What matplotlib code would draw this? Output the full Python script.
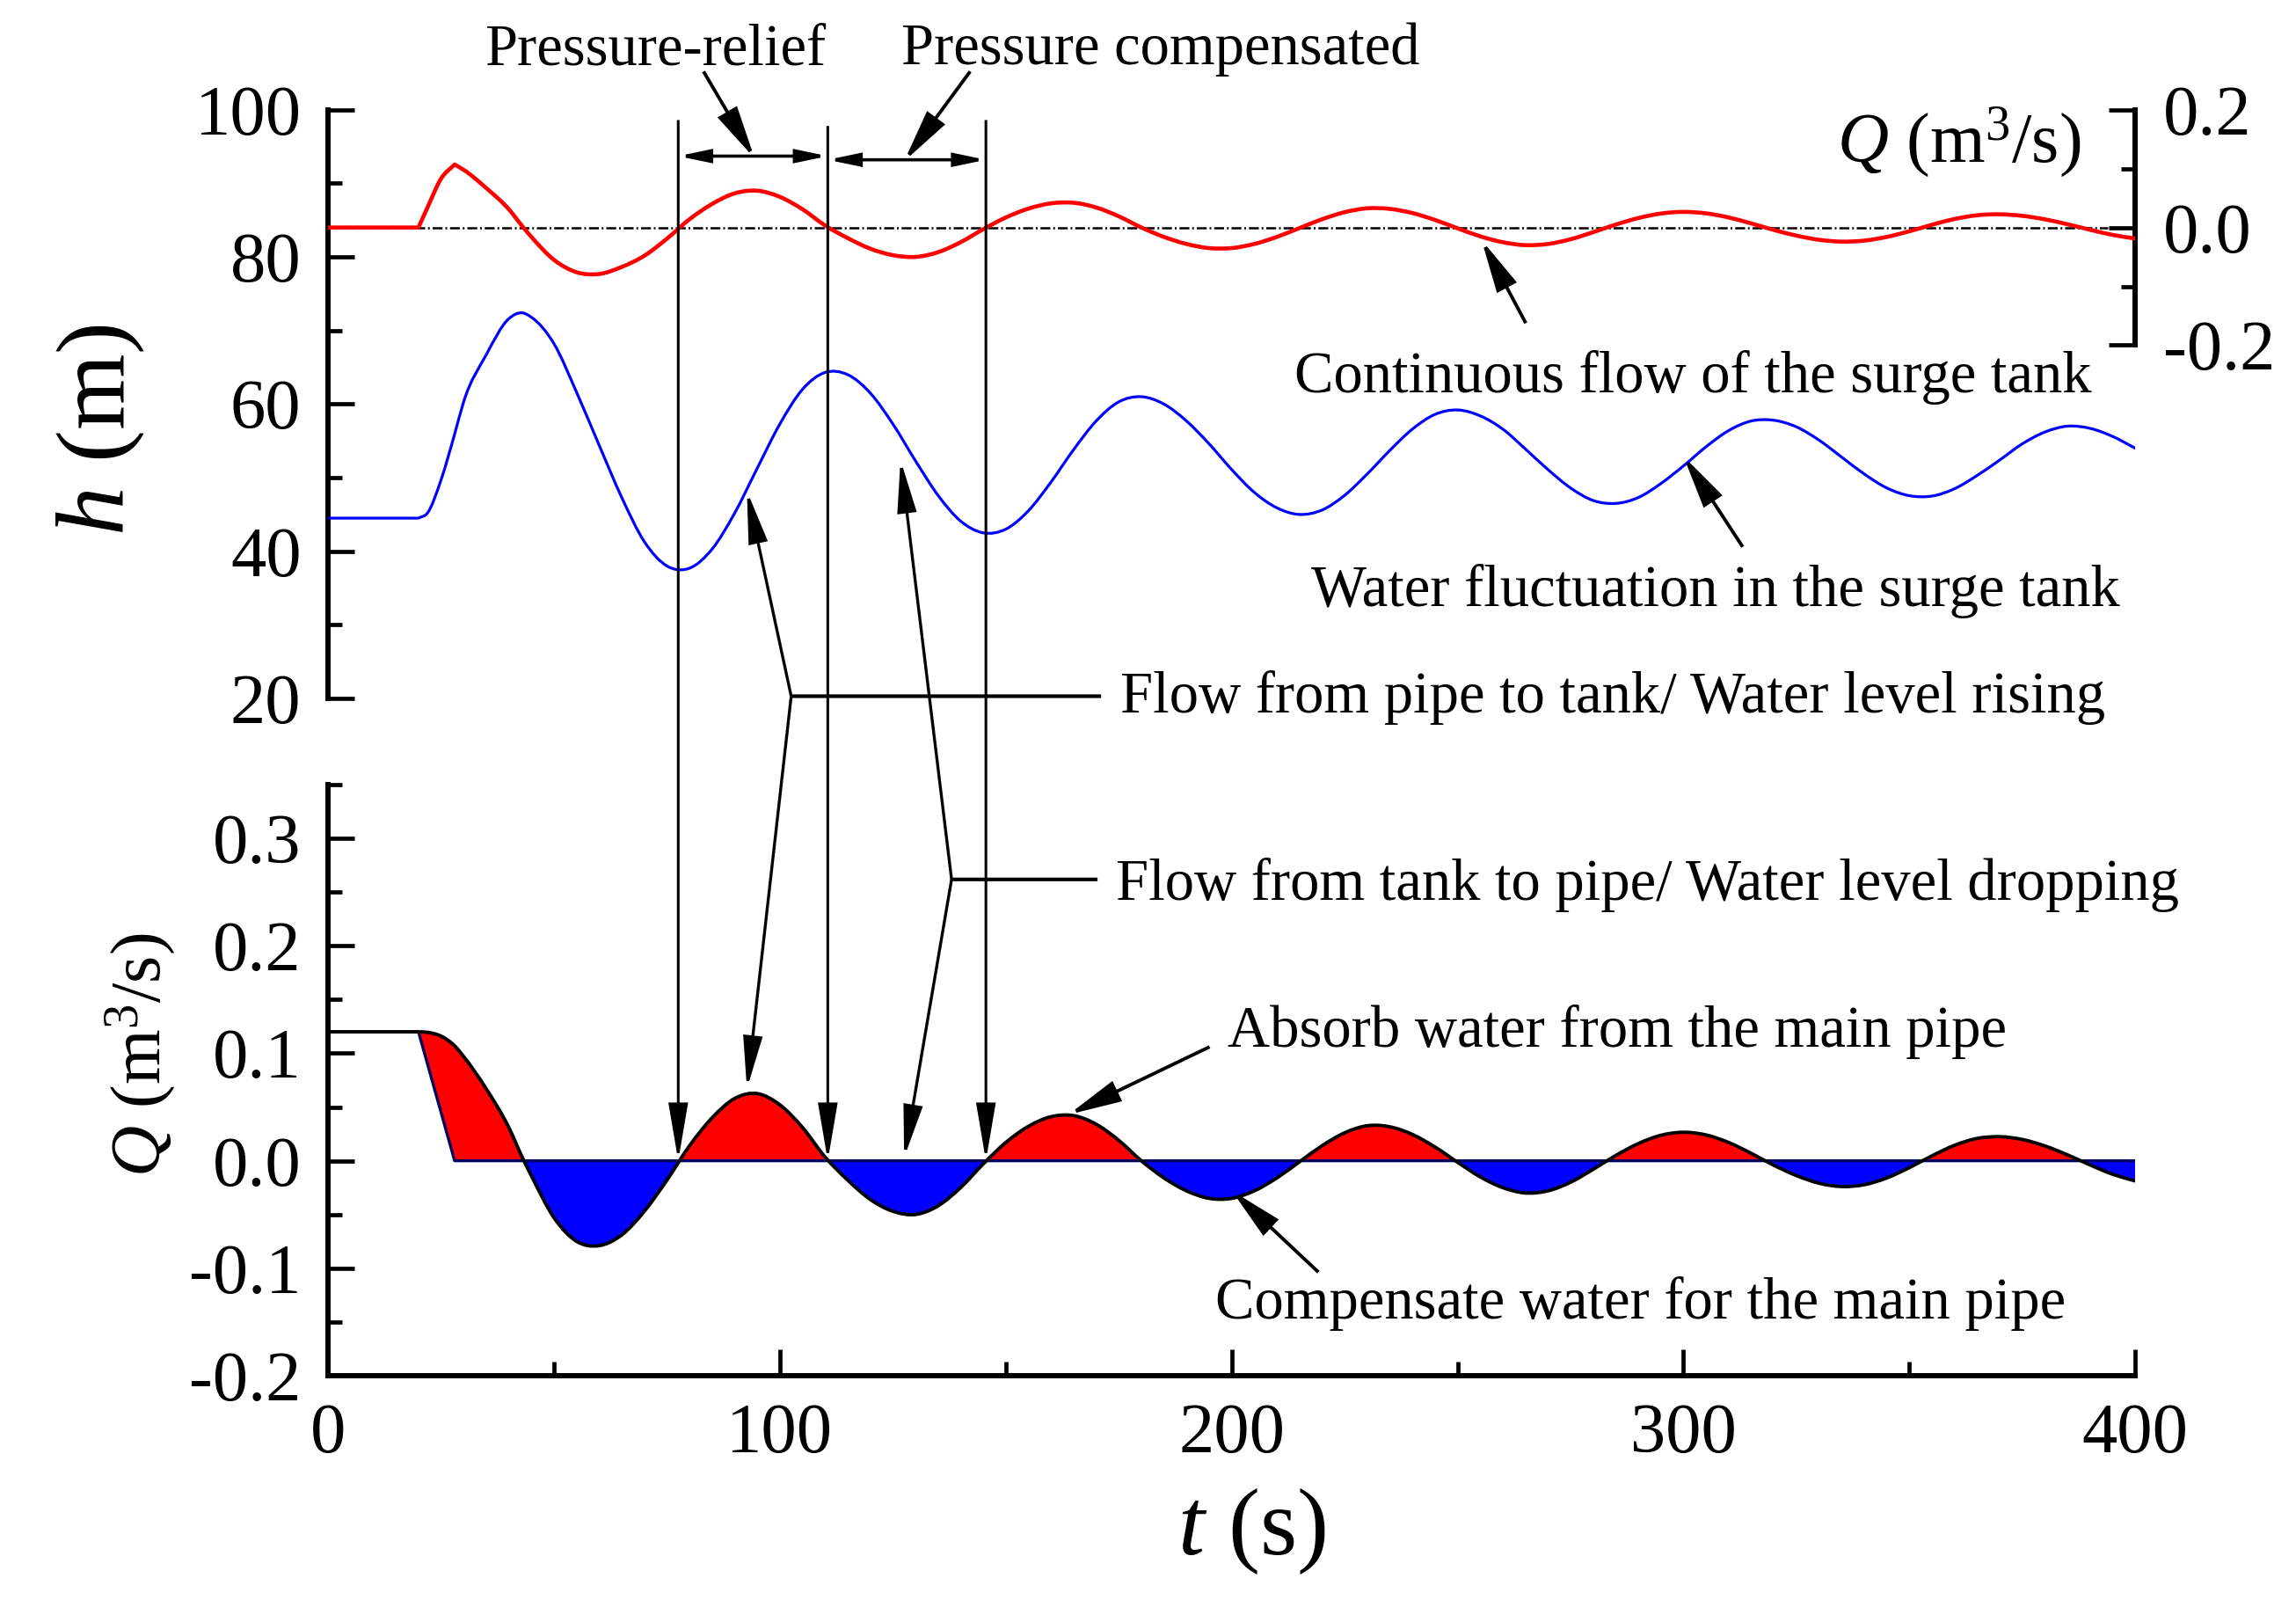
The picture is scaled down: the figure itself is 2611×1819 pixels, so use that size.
import numpy as np
import matplotlib
matplotlib.use("Agg")
import matplotlib.pyplot as plt
from matplotlib.patches import ConnectionPatch, PathPatch
from matplotlib.path import Path
from matplotlib.ticker import MultipleLocator, FixedLocator, FormatStrFormatter

plt.rcParams.update({
    "font.family": ["Liberation Serif", "DejaVu Serif"],
    "mathtext.fontset": "custom",
    "mathtext.rm": "Liberation Serif",
    "mathtext.it": "Liberation Serif:italic",
    "mathtext.bf": "Liberation Serif:bold",
    "axes.unicode_minus": False,
})

# ---------------- data ----------------
t = [0, 5, 10, 15, 20, 22, 25, 28, 30, 35, 40, 43, 45, 50, 55, 60, 65, 70, 75,
     80, 85, 90, 95, 100, 105, 110, 115, 120, 125, 130, 135, 140, 145, 150,
     155, 160, 165, 170, 175, 180, 185, 190, 195, 200, 205, 210, 215, 220,
     225, 230, 235, 240, 245, 250, 255, 260, 265, 270, 275, 280, 285, 290,
     295, 300, 305, 310, 315, 320, 325, 330, 335, 340, 345, 350, 355, 360,
     365, 370, 375, 380, 385, 390, 395, 400]

# water level in the surge tank (m)
h_level = [44.5, 44.5, 44.5, 44.5, 44.5, 45.2, 49.7, 55.9, 60.3, 66.7, 71.6, 72.4, 71.8,
           68.2, 61.6, 54.4, 47.3, 41.3, 38.0, 37.7, 40.3, 45.2, 51.3, 57.3, 62.0,
           64.3, 64.0, 61.5, 57.3, 52.3, 47.6, 44.1, 42.5, 43.0, 45.5, 49.4, 53.8,
           57.7, 60.3, 61.0, 60.0, 57.7, 54.6, 51.1, 48.0, 45.9, 45.0, 45.6, 47.6,
           50.5, 53.7, 56.6, 58.6, 59.2, 58.4, 56.6, 53.9, 51.1, 48.6, 46.9, 46.5,
           47.3, 49.2, 51.6, 54.2, 56.4, 57.7, 57.8, 56.9, 55.1, 52.8, 50.5, 48.6,
           47.55, 47.5, 48.5, 50.3, 52.4, 54.6, 56.2, 57.0, 56.7, 55.6, 54.0]

# continuous flow of the surge tank (m3/s), top panel
q_top = [0.0, 0.0, 0.0, 0.0, 0.0, 0.034, 0.083, 0.107, 0.098, 0.067, 0.031, 0.002, -0.016,
         -0.055, -0.076, -0.079, -0.067, -0.048, -0.019, 0.014, 0.040, 0.058, 0.0625,
         0.052, 0.031, 0.0035, -0.018, -0.036, -0.047, -0.050, -0.042, -0.025, -0.003,
         0.017, 0.032, 0.041, 0.042, 0.034, 0.019, 0.0, -0.016, -0.028, -0.035, -0.035,
         -0.028, -0.016, -0.001, 0.014, 0.026, 0.0326, 0.0316, 0.0245, 0.0128, -0.0014,
         -0.015, -0.025, -0.030, -0.028, -0.020, -0.008, 0.0049, 0.016, 0.0237, 0.0265,
         0.024, 0.017, 0.0069, -0.0042, -0.0138, -0.0209, -0.024, -0.0223, -0.016,
         -0.0064, 0.0046, 0.0144, 0.0208, 0.0224, 0.0198, 0.0138, 0.0055, -0.0039,
         -0.0126, -0.0188]

# flow between pipe and tank (m3/s), bottom panel
q_flow = [0.12, 0.12, 0.12, 0.12, 0.12, 0.1195, 0.116, 0.107, 0.097, 0.067, 0.031, 0.003,
          -0.014, -0.053, -0.075, -0.079, -0.069, -0.047, -0.018, 0.014, 0.040, 0.058,
          0.0625, 0.052, 0.031, 0.0035, -0.018, -0.036, -0.047, -0.050, -0.042, -0.025,
          -0.003, 0.017, 0.032, 0.041, 0.042, 0.034, 0.019, 0.0, -0.016, -0.028, -0.035,
          -0.035, -0.028, -0.016, -0.001, 0.014, 0.026, 0.0326, 0.0316, 0.0245, 0.0128,
          -0.0014, -0.015, -0.025, -0.030, -0.028, -0.020, -0.008, 0.0049, 0.016, 0.0237,
          0.0265, 0.024, 0.017, 0.0069, -0.0042, -0.0138, -0.0209, -0.024, -0.0223,
          -0.016, -0.0064, 0.0046, 0.0144, 0.0208, 0.0224, 0.0198, 0.0138, 0.0055,
          -0.0039, -0.0126, -0.0188]

# reference (steady) flow line in the bottom panel
base_t = [0, 20, 28, 400]
base_q = [0.12, 0.12, 0.0, 0.0]

# instants of the vertical guide lines (s)
guide_t = [77.5, 110.6, 145.6]
guide_top = [98.6, 97.8, 98.6]

x_ticks = [0, 100, 200, 300, 400]
h_ticks = [20, 40, 60, 80, 100]
q_ticks = [-0.2, -0.1, 0.0, 0.1, 0.2, 0.3]
qr_ticks = [-0.2, 0.0, 0.2]


# smooth (spline-like) connection of the data points, drawn as Bezier path
def smooth_path(x, y, corners=()):
    x = np.asarray(x, float)
    y = np.asarray(y, float)
    n = len(x)
    m = np.zeros(n)
    for i in range(n):
        if i == 0:
            m[i] = (y[1] - y[0]) / (x[1] - x[0])
        elif i == n - 1:
            m[i] = (y[-1] - y[-2]) / (x[-1] - x[-2])
        else:
            h0, h1 = x[i] - x[i - 1], x[i + 1] - x[i]
            d0, d1 = (y[i] - y[i - 1]) / h0, (y[i + 1] - y[i]) / h1
            m[i] = (d0 * h1 + d1 * h0) / (h0 + h1)
    mL, mR = m.copy(), m.copy()
    for i in corners:
        mL[i] = (y[i] - y[i - 1]) / (x[i] - x[i - 1])
        mR[i] = (y[i + 1] - y[i]) / (x[i + 1] - x[i])
    verts = [(x[0], y[0])]
    codes = [Path.MOVETO]
    for i in range(n - 1):
        dx = x[i + 1] - x[i]
        verts += [(x[i] + dx / 3, y[i] + mR[i] * dx / 3),
                  (x[i + 1] - dx / 3, y[i + 1] - mL[i + 1] * dx / 3),
                  (x[i + 1], y[i + 1])]
        codes += [Path.CURVE4] * 3
    return verts, codes


def draw_curve(ax, x, y, corners=(), **kw):
    v, c = smooth_path(x, y, corners)
    ax.add_patch(PathPatch(Path(v, c), fill=False, **kw))


# ---------------- figure ----------------
fig = plt.figure(figsize=(26.11, 18.19), dpi=100)
ax_h = fig.add_axes([0.1429, 0.5635, 0.7871, 0.3679])
ax_q = fig.add_axes([0.1429, 0.1402, 0.7871, 0.3694])
ax_r = ax_h.twinx()

SPW = 4.3
TS = 58
for ax in (ax_h, ax_q, ax_r):
    ax.set_facecolor("none")
    ax.set_xlim(0, 400)
    for s in ax.spines.values():
        s.set_linewidth(SPW)

# top panel: water level
ax_h.set_ylim(20, 100)
for s in ("top", "right", "bottom"):
    ax_h.spines[s].set_visible(False)
ax_h.tick_params(axis="x", which="both", bottom=False, labelbottom=False)
ax_h.yaxis.set_major_locator(FixedLocator(h_ticks))
ax_h.yaxis.set_minor_locator(MultipleLocator(10))
ax_h.tick_params(axis="y", which="major", direction="in", length=21.6, width=3.4,
                 labelsize=TS, pad=22)
ax_h.tick_params(axis="y", which="minor", direction="in", length=11.5, width=3.4)
draw_curve(ax_h, t, h_level, corners=(4,), edgecolor="#0000FF", lw=2.3, zorder=3,
           capstyle="round", joinstyle="round")

# top panel: right Q axis
ax_r.set_ylim(-0.8, 0.2)
for s in ("top", "left", "bottom"):
    ax_r.spines[s].set_visible(False)
ax_r.spines["right"].set_bounds(-0.2, 0.2)
ax_r.yaxis.set_major_locator(FixedLocator(qr_ticks))
ax_r.yaxis.set_minor_locator(FixedLocator([-0.1, 0.1]))
ax_r.yaxis.set_major_formatter(FormatStrFormatter("%.1f"))
ax_r.tick_params(axis="y", which="major", direction="in", length=21.6, width=3.4,
                 labelsize=TS, pad=23)
ax_r.tick_params(axis="y", which="minor", direction="in", length=11.5, width=3.4)
ax_r.axhline(0, xmax=0.985, color="black", lw=1.8, ls=(0, (4.5, 1.3, 0.8, 1.3)), zorder=2)
draw_curve(ax_r, t, q_top, corners=(4, 7), edgecolor="#FF0000", lw=3.3, zorder=3,
           capstyle="round", joinstyle="round")
ax_h.text(387.9, 92.9, r"$Q$ (m$^3$/s)", fontsize=58, ha="right", va="baseline")

# bottom panel
ax_q.set_ylim(-0.2, 0.35)
for s in ("top", "right"):
    ax_q.spines[s].set_visible(False)
ax_q.xaxis.set_major_locator(FixedLocator(x_ticks))
ax_q.xaxis.set_minor_locator(MultipleLocator(50))
ax_q.yaxis.set_major_locator(FixedLocator(q_ticks))
ax_q.yaxis.set_minor_locator(MultipleLocator(0.05))
ax_q.yaxis.set_major_formatter(FormatStrFormatter("%.1f"))
ax_q.tick_params(axis="both", which="major", direction="in", length=21.6, width=3.4,
                 labelsize=TS)
ax_q.tick_params(axis="both", which="minor", direction="in", length=11.5, width=3.4)
ax_q.tick_params(axis="y", pad=22)
ax_q.tick_params(axis="x", pad=22)

# filled lobes between the flow curve and the reference line
v, c = smooth_path(t, q_flow, corners=(4,))
v = v + [(base_t[k], base_q[k]) for k in range(len(base_t) - 1, -1, -1)] + [(0, 0)]
c = c + [Path.LINETO] * len(base_t) + [Path.CLOSEPOLY]
region = Path(v, c)
above = Path(list(zip(base_t, base_q)) + [(400, 1.0), (0, 1.0), (0, 0)],
             [Path.MOVETO] + [Path.LINETO] * (len(base_t) + 1) + [Path.CLOSEPOLY])
below = Path(list(zip(base_t, base_q)) + [(400, -1.0), (0, -1.0), (0, 0)],
             [Path.MOVETO] + [Path.LINETO] * (len(base_t) + 1) + [Path.CLOSEPOLY])
red_fill = PathPatch(region, facecolor="#FF0000", lw=0, zorder=1)
blue_fill = PathPatch(region, facecolor="#0000FF", lw=0, zorder=1)
ax_q.add_patch(red_fill)
ax_q.add_patch(blue_fill)
red_fill.set_clip_path(above, ax_q.transData)
blue_fill.set_clip_path(below, ax_q.transData)

ax_q.plot(base_t, base_q, color="#000060", lw=2.4, zorder=2)
draw_curve(ax_q, t, q_flow, corners=(4,), edgecolor="black", lw=2.8, zorder=3,
           capstyle="round", joinstyle="round")

# axis titles
fig.text(0.0437, 0.7312, r"$h$ (m)", fontsize=80, rotation=90, ha="center", va="center")
fig.text(0.0613, 0.3408, r"$Q$ (m$^3$/s)", fontsize=58, rotation=90, ha="center", va="center")
fig.text(0.545, 0.0428, r"$t$ (s)", fontsize=78, ha="center", va="center")


# ---------------- annotations ----------------
def link(pA, axA, pB, axB, lw=2.4, style="-|>", ms=30, hl=0.92, hw=0.22):
    if style == "-":
        arrowstyle = "-"
    else:
        arrowstyle = f"{style},head_length={hl},head_width={hw}"
    con = ConnectionPatch(xyA=pA, coordsA=axA.transData, xyB=pB, coordsB=axB.transData,
                          arrowstyle=arrowstyle, mutation_scale=ms, lw=lw,
                          color="black", shrinkA=0, shrinkB=0, zorder=5,
                          joinstyle="miter", capstyle="butt")
    fig.add_artist(con)


# vertical guide lines down to Q = 0
for gx, gtop in zip(guide_t, guide_top):
    link((gx, gtop), ax_h, (gx, 0.0), ax_q, lw=2.2, ms=40, hl=1.0, hw=0.17)

# pressure intervals (double arrows)
link((guide_t[0], 93.7), ax_h, (guide_t[1], 93.7), ax_h, lw=2.6, style="<|-|>", ms=20, hl=1.05, hw=0.22)
link((guide_t[1], 93.2), ax_h, (guide_t[2], 93.2), ax_h, lw=2.6, style="<|-|>", ms=20, hl=1.05, hw=0.22)

FS = 48
ax_h.text(34.6, 106.15, "Pressure-relief", fontsize=FS, ha="left", va="baseline", clip_on=False)
ax_h.text(126.8, 106.15, "Pressure compensated", fontsize=FS, ha="left", va="baseline", clip_on=False)
link((83.1, 105.2), ax_h, (94.4, 93.4), ax_h, lw=2.8, ms=30, hl=1.2, hw=0.25)
link((142.1, 105.2), ax_h, (127.5, 93.0), ax_h, lw=2.8, ms=30, hl=1.2, hw=0.25)

# continuous flow / water fluctuation
ax_h.text(213.9, 61.6, "Continuous flow of the surge tank", fontsize=FS, ha="left", va="baseline")
link((265.1, 71.0), ax_h, (255.3, 82.3), ax_h, lw=2.8, ms=30, hl=1.2, hw=0.25)
ax_h.text(217.5, 32.6, "Water fluctuation in the surge tank", fontsize=FS, ha="left", va="baseline")
link((313.1, 40.6), ax_h, (300.0, 52.9), ax_h, lw=2.8, ms=30, hl=1.2, hw=0.25)

# flow from pipe to tank
ax_h.text(175.4, 18.06, "Flow from pipe to tank/ Water level rising", fontsize=FS,
          ha="left", va="baseline", clip_on=False)
link((102.5, 20.3), ax_h, (171.1, 20.3), ax_h, lw=3.0, style="-")
link((102.5, 20.3), ax_h, (92.7, 48.2), ax_h, lw=2.4, ms=30, hl=1.2, hw=0.22)
link((102.5, 20.3), ax_h, (92.7, 0.067), ax_q, lw=2.4, ms=30, hl=1.2, hw=0.22)

# flow from tank to pipe
ax_q.text(174.4, 0.2428, "Flow from tank to pipe/ Water level dropping", fontsize=FS,
          ha="left", va="baseline", clip_on=False)
link((138.0, 0.2618), ax_q, (170.3, 0.2618), ax_q, lw=3.0, style="-")
link((138.0, 0.2618), ax_q, (126.7, 52.4), ax_h, lw=2.4, ms=30, hl=1.2, hw=0.22)
link((138.0, 0.2618), ax_q, (127.5, 0.003), ax_q, lw=2.4, ms=30, hl=1.2, hw=0.22)

# absorb / compensate
ax_q.text(199.0, 0.1062, "Absorb water from the main pipe", fontsize=FS, ha="left", va="baseline")
link((195.1, 0.106), ax_q, (163.9, 0.043), ax_q, lw=2.8, ms=30, hl=1.2, hw=0.25)
ax_q.text(196.4, -0.1467, "Compensate water for the main pipe", fontsize=FS, ha="left", va="baseline")
link((219.2, -0.1037), ax_q, (200.0, -0.0278), ax_q, lw=2.8, ms=30, hl=1.2, hw=0.25)

fig.savefig("out.png", dpi=100)
